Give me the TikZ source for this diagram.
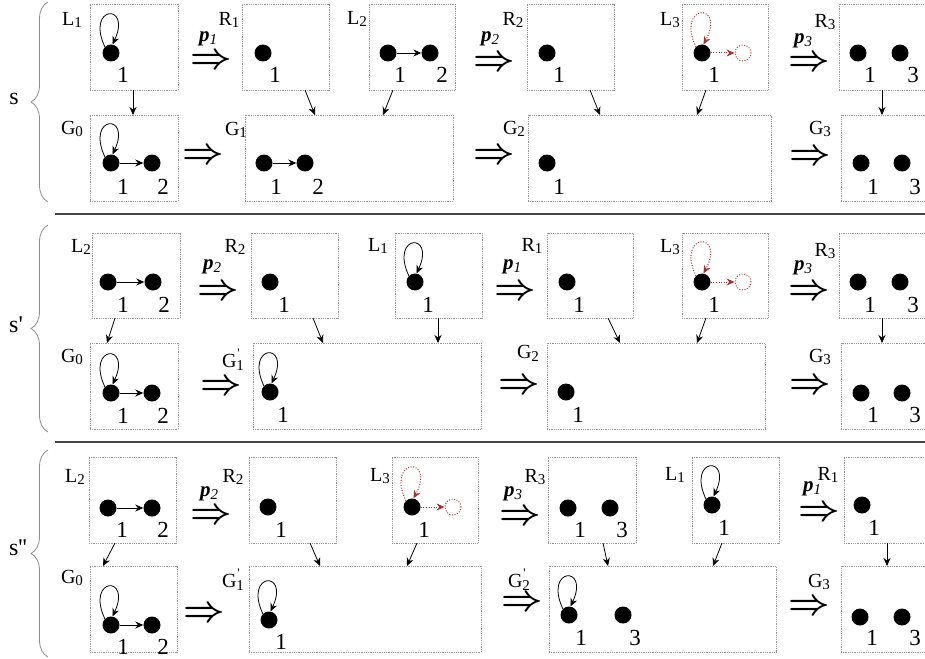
\documentclass[tikz,border=0pt]{standalone}
\usepackage{amsmath}
\usepackage{fontspec}
\setmainfont{Liberation Serif}
\newfontfamily\plainserif{Liberation Serif}[Ligatures=TeXOff]
\usetikzlibrary{arrows.meta,decorations.pathreplacing,calc}
\definecolor{dkred}{RGB}{149,55,53}
\definecolor{boxgray}{RGB}{150,150,150}
\definecolor{sepgray}{RGB}{70,70,70}
\definecolor{bracegray}{RGB}{140,140,140}
\newcommand{\tick}{{\plainserif\symbol{39}}}
\newcommand{\sbs}[1]{\raisebox{-0.3ex}{\fontsize{15}{15}\selectfont #1}}
\newcommand{\sbp}[1]{\rlap{\raisebox{1.1ex}{\fontsize{13}{13}\selectfont\kern1pt\tick}}\sbs{#1}}
\newcommand{\gbox}[5]{\node[boxst, minimum width={(#4-#2)*1pt}, minimum height={(#5-#3)*1pt}] (#1) at (#2,#3) {};}
\newcommand{\selfloop}[1]{\draw[gedge] (#1.135) .. controls +(115:46pt) and +(65:46pt) .. (#1.80);}
\newcommand{\ghostloop}[1]{\draw[gdot] (#1.135) .. controls +(115:48pt) and +(62:48pt) .. (#1.80);}
\newcommand{\vconn}[4]{\draw[conn] ([xshift=#2pt]#1.south west) -- ([xshift=#4pt]#3.north west);}
\newcommand{\dimp}{$\boldsymbol{\Rightarrow}$}
\begin{document}
\begin{tikzpicture}[x=1pt,y=-1pt,
  boxst/.style={draw=boxgray, line width=0.7pt, dash pattern=on 0.9pt off 0.9pt, anchor=north west, inner sep=0pt, outer sep=0pt},
  vtx/.style={circle, fill=black, minimum size=17pt, inner sep=0pt},
  ghost/.style={circle, draw=dkred, line width=0.9pt, dash pattern=on 1pt off 1.6pt, minimum size=16pt, inner sep=0pt},
  num/.style={font=\fontsize{23}{23}\selectfont, inner sep=0pt},
  blab/.style={font=\fontsize{20}{20}\selectfont, inner sep=0pt},
  plab/.style={font=\fontsize{21}{21}\selectfont, inner sep=0pt},
  slab/.style={font=\fontsize{24}{24}\selectfont\plainserif, inner sep=0pt},
  imp/.style={scale=3.6, inner sep=0pt},
  conn/.style={-{Stealth[length=8pt,width=7pt]}, line width=0.8pt},
  gedge/.style={-{Stealth[length=8pt,width=7pt]}, line width=0.8pt},
  gdot/.style={-{Stealth[length=8pt,width=7pt]}, draw=dkred, line width=1pt, dash pattern=on 1pt off 1.6pt},
  sep/.style={draw=sepgray, line width=1.6pt},
  brc/.style={draw=bracegray, line width=0.8pt, decorate, decoration={brace, amplitude=17pt}}
]
\useasboundingbox (0,0) rectangle (925,658);
\clip (0,0) rectangle (925,658);

% ================= ROW 1 : s =================
\gbox{L1a}{90}{4}{178}{90}
\gbox{R1a}{242}{4}{329}{90}
\gbox{L2a}{369}{4}{455}{90}
\gbox{R2a}{527}{4}{614}{90}
\gbox{L3a}{682}{4}{768}{90}
\gbox{R3a}{839}{4}{940}{90}
\gbox{G0a}{90}{115}{178}{201}
\gbox{G1a}{245}{115}{453}{201}
\gbox{G2a}{528}{115}{771}{201}
\gbox{G3a}{841}{115}{940}{201}

\node[blab] (aL1t) at (72,20) {L\sbs{1}};
\node[blab] (aR1t) at (229,20) {R\sbs{1}};
\node[blab] (aL2t) at (357,19) {L\sbs{2}};
\node[blab] (aR2t) at (513,20) {R\sbs{2}};
\node[blab] (aL3t) at (670,20) {L\sbs{3}};
\node[blab] (aR3t) at (825,22) {R\sbs{3}};
\node[blab] (aG0t) at (72,129) {G\sbs{0}};
\node[blab] (aG1t) at (236,130) {G\sbs{1}};
\node[blab] (aG2t) at (514,129) {G\sbs{2}};
\node[blab] (aG3t) at (820,129) {G\sbs{3}};

\node[vtx] (aL1v1) at (111,53) {}; \selfloop{aL1v1}
\node[num] (aL1n1) at (123,75) {1};
\node[vtx] (aR1v1) at (263,53) {};
\node[num] (aR1n1) at (275,75) {1};
\node[vtx] (aL2v1) at (388,53) {}; \node[vtx] (aL2v2) at (430,53) {};
\draw[gedge] (aL2v1) -- (aL2v2);
\node[num] (aL2n1) at (400,75) {1}; \node[num] (aL2n2) at (442,75) {2};
\node[vtx] (aR2v1) at (547,53) {};
\node[num] (aR2n1) at (559,75) {1};
\node[vtx] (aL3v1) at (702,53) {}; \ghostloop{aL3v1}
\node[ghost] (aL3g) at (743,53) {};
\draw[gdot] (aL3v1) -- (aL3g);
\node[num] (aL3n1) at (714,75) {1};
\node[vtx] (aR3v1) at (858,53) {}; \node[vtx] (aR3v3) at (900,53) {};
\node[num] (aR3n1) at (870,75) {1}; \node[num] (aR3n3) at (913,75) {3};

\node[vtx] (aG0v1) at (111,163) {}; \selfloop{aG0v1}
\node[vtx] (aG0v2) at (152,163) {};
\draw[gedge] (aG0v1) -- (aG0v2);
\node[num] (aG0n1) at (123,187) {1}; \node[num] (aG0n2) at (163,187) {2};
\node[vtx] (aG1v1) at (264,163) {}; \node[vtx] (aG1v2) at (305,163) {};
\draw[gedge] (aG1v1) -- (aG1v2);
\node[num] (aG1n1) at (276,187) {1}; \node[num] (aG1n2) at (318,187) {2};
\node[vtx] (aG2v1) at (547,163) {};
\node[num] (aG2n1) at (559,187) {1};
\node[vtx] (aG3v1) at (861,163) {}; \node[vtx] (aG3v3) at (902,163) {};
\node[num] (aG3n1) at (873,187) {1}; \node[num] (aG3n3) at (915,187) {3};

\node[imp] (aI1) at (211,61) {\dimp};
\node[plab] (aP1) at (208,39) {\textbf{\textit{p}}\sbs{\textit{1}}};
\node[imp] (aJ1) at (203,156) {\dimp};
\node[imp] (aI2) at (494,63) {\dimp};
\node[plab] (aP2) at (490,39) {\textbf{\textit{p}}\sbs{\textit{2}}};
\node[imp] (aJ2) at (494,156) {\dimp};
\node[imp] (aI3) at (809,63) {\dimp};
\node[plab] (aP3) at (803,41) {\textbf{\textit{p}}\sbs{\textit{3}}};
\node[imp] (aJ3) at (810,157) {\dimp};

\vconn{L1a}{43}{G0a}{43}
\vconn{R1a}{63}{G1a}{70}
\vconn{L2a}{24}{G1a}{138}
\vconn{R2a}{63}{G2a}{72}
\vconn{L3a}{24}{G2a}{169}
\vconn{R3a}{43}{G3a}{41}

% ================= ROW 2 : s' =================
\gbox{L2b}{92}{233}{180}{318}
\gbox{R2b}{251}{233}{338}{318}
\gbox{L1b}{395}{233}{482}{318}
\gbox{R1b}{547}{233}{633}{318}
\gbox{L3b}{682}{233}{768}{318}
\gbox{R3b}{839}{233}{940}{318}
\gbox{G0b}{90}{343}{178}{429}
\gbox{G1b}{253}{343}{481}{429}
\gbox{G2b}{547}{343}{765}{429}
\gbox{G3b}{841}{343}{940}{429}

\node[blab] (bL2t) at (81,247) {L\sbs{2}};
\node[blab] (bR2t) at (235,247) {R\sbs{2}};
\node[blab] (bL1t) at (378,246) {L\sbs{1}};
\node[blab] (bR1t) at (532,246) {R\sbs{1}};
\node[blab] (bL3t) at (670,247) {L\sbs{3}};
\node[blab] (bR3t) at (825,251) {R\sbs{3}};
\node[blab] (bG0t) at (72,357) {G\sbs{0}};
\node[blab] (bG1t) at (233,360) {G\sbp{1}};
\node[blab] (bG2t) at (528,353) {G\sbs{2}};
\node[blab] (bG3t) at (820,357) {G\sbs{3}};

\node[vtx] (bL2v1) at (108,282) {}; \node[vtx] (bL2v2) at (153,282) {};
\draw[gedge] (bL2v1) -- (bL2v2);
\node[num] (bL2n1) at (123,305) {1}; \node[num] (bL2n2) at (164,305) {2};
\node[vtx] (bR2v1) at (270,282) {};
\node[num] (bR2n1) at (284,305) {1};
\node[vtx] (bL1v1) at (415,282) {}; \selfloop{bL1v1}
\node[num] (bL1n1) at (428,305) {1};
\node[vtx] (bR1v1) at (567,282) {};
\node[num] (bR1n1) at (579,305) {1};
\node[vtx] (bL3v1) at (702,282) {}; \ghostloop{bL3v1}
\node[ghost] (bL3g) at (743,282) {};
\draw[gdot] (bL3v1) -- (bL3g);
\node[num] (bL3n1) at (714,305) {1};
\node[vtx] (bR3v1) at (858,282) {}; \node[vtx] (bR3v3) at (900,282) {};
\node[num] (bR3n1) at (870,305) {1}; \node[num] (bR3n3) at (913,305) {3};

\node[vtx] (bG0v1) at (111,393) {}; \selfloop{bG0v1}
\node[vtx] (bG0v2) at (152,393) {};
\draw[gedge] (bG0v1) -- (bG0v2);
\node[num] (bG0n1) at (123,416) {1}; \node[num] (bG0n2) at (163,416) {2};
\node[vtx] (bG1v1) at (270,392) {}; \selfloop{bG1v1}
\node[num] (bG1n1) at (283,415) {1};
\node[vtx] (bG2v1) at (566,392) {};
\node[num] (bG2n1) at (578,415) {1};
\node[vtx] (bG3v1) at (861,393) {}; \node[vtx] (bG3v3) at (902,393) {};
\node[num] (bG3n1) at (873,415) {1}; \node[num] (bG3n3) at (915,415) {3};

\node[imp] (bI1) at (218,292) {\dimp};
\node[plab] (bP1) at (212,267) {\textbf{\textit{p}}\sbs{\textit{2}}};
\node[imp] (bJ1) at (221,387) {\dimp};
\node[imp] (bI2) at (515,292) {\dimp};
\node[plab] (bP2) at (512,267) {\textbf{\textit{p}}\sbs{\textit{1}}};
\node[imp] (bJ2) at (519,386) {\dimp};
\node[imp] (bI3) at (809,292) {\dimp};
\node[plab] (bP3) at (803,268) {\textbf{\textit{p}}\sbs{\textit{3}}};
\node[imp] (bJ3) at (810,386) {\dimp};

\vconn{L2b}{23}{G0b}{17}
\vconn{R2b}{62}{G1b}{70}
\vconn{L1b}{43}{G1b}{185}
\vconn{R1b}{61}{G2b}{73}
\vconn{L3b}{24}{G2b}{150}
\vconn{R3b}{43}{G3b}{41}

% ================= ROW 3 : s'' =================
\gbox{L2c}{89}{457}{176}{543}
\gbox{R2c}{249}{457}{336}{543}
\gbox{L3c}{392}{457}{478}{543}
\gbox{R3c}{548}{457}{636}{543}
\gbox{L1c}{692}{457}{779}{543}
\gbox{R1c}{844}{457}{940}{543}
\gbox{G0c}{90}{566}{177}{652}
\gbox{G1c}{249}{566}{481}{652}
\gbox{G2c}{549}{566}{776}{652}
\gbox{G3c}{841}{566}{940}{652}

\node[blab] (cL2t) at (75,477) {L\sbs{2}};
\node[blab] (cR2t) at (233,477) {R\sbs{2}};
\node[blab] (cL3t) at (380,476) {L\sbs{3}};
\node[blab] (cR3t) at (535,477) {R\sbs{3}};
\node[blab] (cL1t) at (675,475) {L\sbs{1}};
\node[blab] (cR1t) at (828,475) {R\sbs{1}};
\node[blab] (cG0t) at (72,578) {G\sbs{0}};
\node[blab] (cG1t) at (233,580) {G\sbp{1}};
\node[blab] (cG2t) at (519,580) {G\sbp{2}};
\node[blab] (cG3t) at (819,582) {G\sbs{3}};

\node[vtx] (cL2v1) at (108,508) {}; \node[vtx] (cL2v2) at (152,508) {};
\draw[gedge] (cL2v1) -- (cL2v2);
\node[num] (cL2n1) at (122,530) {1}; \node[num] (cL2n2) at (163,530) {2};
\node[vtx] (cR2v1) at (268,507) {};
\node[num] (cR2n1) at (281,530) {1};
\node[vtx] (cL3v1) at (412,507) {}; \ghostloop{cL3v1}
\node[ghost] (cL3g) at (453,507) {};
\draw[gdot] (cL3v1) -- (cL3g);
\node[num] (cL3n1) at (424,530) {1};
\node[vtx] (cR3v1) at (568,508) {}; \node[vtx] (cR3v3) at (610,508) {};
\node[num] (cR3n1) at (580,530) {1}; \node[num] (cR3n3) at (622,530) {3};
\node[vtx] (cL1v1) at (712,505) {}; \selfloop{cL1v1}
\node[num] (cL1n1) at (724,528) {1};
\node[vtx] (cR1v1) at (862,505) {};
\node[num] (cR1n1) at (874,528) {1};

\node[vtx] (cG0v1) at (111,625) {}; \selfloop{cG0v1}
\node[vtx] (cG0v2) at (152,625) {};
\draw[gedge] (cG0v1) -- (cG0v2);
\node[num] (cG0n1) at (123,647) {1}; \node[num] (cG0n2) at (163,647) {2};
\node[vtx] (cG1v1) at (269,620) {}; \selfloop{cG1v1}
\node[num] (cG1n1) at (281,642) {1};
\node[vtx] (cG2v1) at (569,615) {}; \selfloop{cG2v1}
\node[vtx] (cG2v3) at (623,615) {};
\node[num] (cG2n1) at (581,638) {1}; \node[num] (cG2n3) at (635,638) {3};
\node[vtx] (cG3v1) at (860,617) {}; \node[vtx] (cG3v3) at (902,617) {};
\node[num] (cG3n1) at (872,638) {1}; \node[num] (cG3n3) at (915,638) {3};

\node[imp] (cI1) at (211,516) {\dimp};
\node[plab] (cP1) at (209,494) {\textbf{\textit{p}}\sbs{\textit{2}}};
\node[imp] (cJ1) at (204,614) {\dimp};
\node[imp] (cI2) at (520,517) {\dimp};
\node[plab] (cP2) at (513,494) {\textbf{\textit{p}}\sbs{\textit{3}}};
\node[imp] (cJ2) at (522,603) {\dimp};
\node[imp] (cI3) at (819,513) {\dimp};
\node[plab] (cP3) at (812,489) {\textbf{\textit{p}}\sbs{\textit{1}}};
\node[imp] (cJ3) at (809,607) {\dimp};

\vconn{L2c}{26}{G0c}{13}
\vconn{R2c}{61}{G1c}{71}
\vconn{L3c}{25}{G1c}{158}
\vconn{R3c}{55}{G2c}{59}
\vconn{L1c}{30}{G2c}{164}
\vconn{R1c}{43}{G3c}{46}

% ================= separators, braces, row labels =================
\draw[sep] (55,214) -- (925,214);
\draw[sep] (55,442) -- (925,442);
\draw[brc] (48,202) -- (48,2);
\draw[brc] (48,432) -- (48,225);
\draw[brc] (48,657) -- (48,450);
\node[slab] (sA) at (14,99) {s};
\node[slab] (sB) at (16,325) {s'};
\node[slab] (sC) at (18,548) {s''};
\end{tikzpicture}
\end{document}
